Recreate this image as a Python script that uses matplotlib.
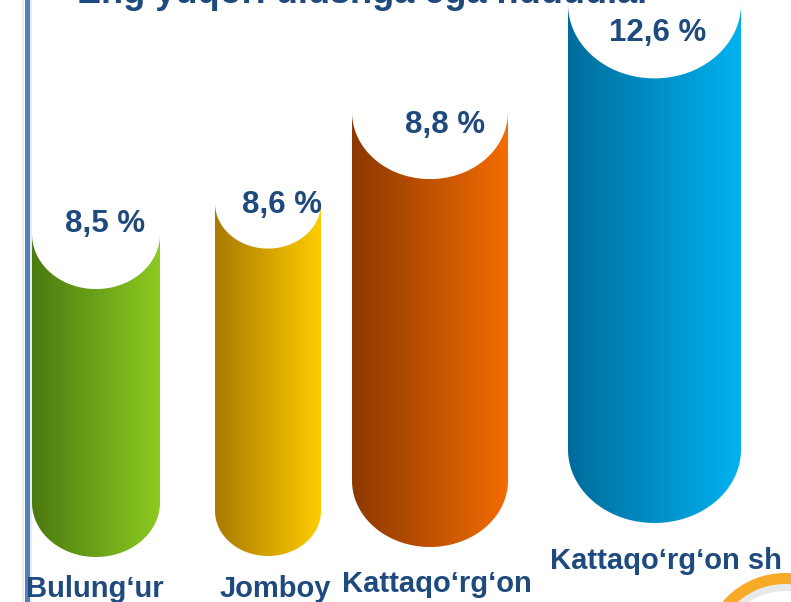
import numpy as np
import matplotlib
matplotlib.use("Agg")
import matplotlib.pyplot as plt
from matplotlib.path import Path
from matplotlib.patches import PathPatch, Wedge
from matplotlib.colors import LinearSegmentedColormap

# data
regions = ["Bulung\u2018ur", "Jomboy", "Kattaqo\u2018rg\u2018on", "Kattaqo\u2018rg\u2018on sh"]
shares = [8.5, 8.6, 8.8, 12.6]
title = "Eng yuqori ulushga ega hududlar"

# layout of the infographic (pixel units, y pointing down)
bar_x = [96, 268, 430, 654.5]
bar_w = [128, 106, 156, 173]
bar_top = [234, 203, 112, 4]
bar_bottom = [557, 556, 547, 523]
val_x = [105.5, 282, 445, 658]
val_y = [232, 213, 133, 41]
cat_x = [95, 275, 436.5, 665.5]
cat_y = [597, 597, 592, 569]
bar_colors = [("#4a7a10", "#8dca21"),
              ("#a87a00", "#ffcc00"),
              ("#8c3800", "#f36c00"),
              ("#006c9c", "#00b2f0")]
text_color = "#1f4a7e"


def cylinder(xc, w, top, bottom, k_top=0.86, k_bot=0.85):
    a = w / 2
    bt, bb = k_top * a, k_bot * a
    x0, x1 = xc - a, xc + a
    t = np.linspace(np.pi, 0, 80)
    low = np.column_stack([xc + a * np.cos(t), bottom - bb + bb * np.sin(t)])
    s = np.linspace(0, np.pi, 80)
    cap = np.column_stack([xc + a * np.cos(s), top + bt * np.sin(s)])
    verts = np.vstack([[[x0, top], [x0, bottom - bb]], low, [[x1, top]], cap, [[x0, top]]])
    codes = [Path.MOVETO] + [Path.LINETO] * (len(verts) - 2) + [Path.CLOSEPOLY]
    return Path(verts, codes)


fig = plt.figure(figsize=(7.91, 6.02), dpi=100)
ax = fig.add_axes([0, 0, 1, 1])
ax.axis("off")

grad = np.linspace(0, 1, 256).reshape(1, -1)
for i in range(len(shares)):
    x0 = bar_x[i] - bar_w[i] / 2
    x1 = bar_x[i] + bar_w[i] / 2
    patch = PathPatch(cylinder(bar_x[i], bar_w[i], bar_top[i], bar_bottom[i]),
                      facecolor="none", edgecolor="none")
    ax.add_patch(patch)
    cmap = LinearSegmentedColormap.from_list("g%d" % i, bar_colors[i])
    im = ax.imshow(grad, cmap=cmap, aspect="auto",
                   extent=(x0, x1, bar_bottom[i], 0), zorder=2)
    im.set_clip_path(patch)
    ax.text(val_x[i], val_y[i], "%s %%" % str(shares[i]).replace(".", ","),
            ha="center", va="baseline", fontsize=22.5, fontweight="bold",
            family="Liberation Sans", color=text_color, zorder=5)
    ax.text(cat_x[i], cat_y[i], regions[i], ha="center", va="baseline",
            fontsize=21, fontweight="bold", family="Liberation Sans",
            color=text_color, zorder=5)

# title is cut by the top edge, as in the slide
ax.text(77, 3, title, ha="left", va="baseline", fontsize=26, fontweight="bold",
        family="Liberation Sans", color=text_color, zorder=6)

# left rule with soft shadow
ax.plot([22.5, 22.5], [0, 602], color="#ebebeb", lw=1.5, zorder=1)
ax.plot([30.5, 30.5], [0, 602], color="#ebebeb", lw=1.5, zorder=1)
ax.plot([26.5, 26.5], [0, 602], color="#4f81bd", lw=3.6, zorder=3)

# decorative ring in the corner
ax.add_patch(Wedge((785, 655), 72, 0, 360, width=8, facecolor="#e9e9e9", edgecolor="none", zorder=3))
ax.add_patch(Wedge((785, 655), 82, 0, 360, width=11, facecolor="#f7a928", edgecolor="none", zorder=4))

ax.set_xlim(0, 791)
ax.set_ylim(602, 0)
fig.savefig("out.png", dpi=100, facecolor="white")
plt.close()
